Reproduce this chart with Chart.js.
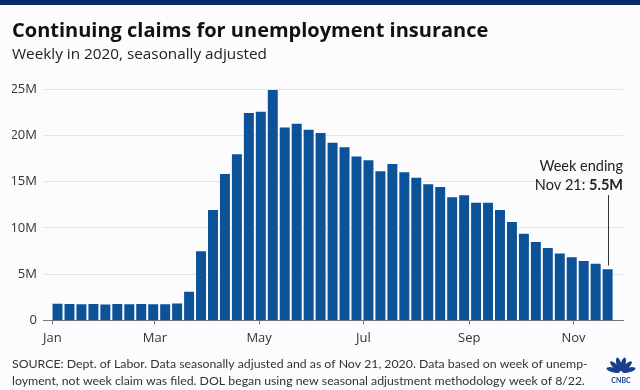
<!DOCTYPE html>
<html>
<head>
<meta charset="utf-8">
<script src="https://cdn.jsdelivr.net/npm/chart.js@4"></script>
<style>
  html, body { margin: 0; padding: 0; background: #fcfbfd; }
  #wrap { width: 640px; height: 390px; position: relative; }
</style>
</head>
<body>
<div id="wrap"><canvas id="claimsChart" width="640" height="390"></canvas></div>
<script>
// week ending dates, 2020
const weekEnding = [
  '2020-01-04', '2020-01-11', '2020-01-18', '2020-01-25', '2020-02-01', '2020-02-08',
  '2020-02-15', '2020-02-22', '2020-02-29', '2020-03-07', '2020-03-14', '2020-03-21',
  '2020-03-28', '2020-04-04', '2020-04-11', '2020-04-18', '2020-04-25', '2020-05-02',
  '2020-05-09', '2020-05-16', '2020-05-23', '2020-05-30', '2020-06-06', '2020-06-13',
  '2020-06-20', '2020-06-27', '2020-07-04', '2020-07-11', '2020-07-18', '2020-07-25',
  '2020-08-01', '2020-08-08', '2020-08-15', '2020-08-22', '2020-08-29', '2020-09-05',
  '2020-09-12', '2020-09-19', '2020-09-26', '2020-10-03', '2020-10-10', '2020-10-17',
  '2020-10-24', '2020-10-31', '2020-11-07', '2020-11-14', '2020-11-21'
];
// continuing claims, millions
const claims = [
  1.76, 1.74, 1.70, 1.75, 1.69, 1.73, 1.72, 1.73, 1.70, 1.70, 1.78, 3.06,
  7.45, 11.9, 15.8, 17.95, 22.4, 22.55, 24.9, 20.85, 21.25, 20.6, 20.25, 19.2,
  18.7, 17.7, 17.3, 16.1, 16.9, 16.0, 15.4, 14.7, 14.4, 13.3, 13.5, 12.7,
  12.7, 11.9, 10.6, 9.35, 8.45, 7.8, 7.2, 6.8, 6.4, 6.1, 5.5
];
const monthTicks = ['2020-01-01', '2020-03-01', '2020-05-01', '2020-07-01', '2020-09-01', '2020-11-01'];
const monthLabels = ['Jan', 'Mar', 'May', 'Jul', 'Sep', 'Nov'];
const yTicks = [0, 5, 10, 15, 20, 25];
const yLabels = ['0', '5M', '10M', '15M', '20M', '25M'];

const DAY = 86400000;
const start = Date.UTC(2020, 0, 1);
const dayNum = s => (Date.parse(s + 'T00:00:00Z') - start) / DAY;

const points = weekEnding.map((d, i) => ({ x: dayNum(d), y: claims[i] }));
const tickDays = monthTicks.map(dayNum);

const navy = '#0b2a6a';
const barBlue = '#0b5299';
const font = '"Open Sans", Lato, sans-serif';
const noteFont = 'Lato, "Open Sans", sans-serif';

const extras = {
  id: 'extras',
  beforeDraw(chart) {
    const ctx = chart.ctx;
    ctx.save();
    ctx.fillStyle = '#fcfbfd';
    ctx.fillRect(0, 0, chart.width, chart.height);
    ctx.fillStyle = navy;
    ctx.fillRect(0, 0, chart.width, 5);
    ctx.restore();
  },
  afterDraw(chart) {
    const ctx = chart.ctx;
    const xs = chart.scales.x, ys = chart.scales.y;
    const last = points[points.length - 1];
    const lx = Math.round(xs.getPixelForValue(last.x)) + 0.5;
    const right = chart.chartArea.right;
    ctx.save();
    // annotation
    ctx.fillStyle = '#222';
    ctx.textAlign = 'right';
    ctx.textBaseline = 'alphabetic';
    ctx.font = '14.5px ' + noteFont;
    ctx.fillText('Week ending', right, 171);
    ctx.font = 'bold 14.5px ' + noteFont;
    const bold = '5.5M';
    const bw = ctx.measureText(bold).width;
    ctx.fillText(bold, right, 190);
    ctx.font = '14.5px ' + noteFont;
    ctx.fillText('Nov 21: ', right - bw, 190);
    ctx.strokeStyle = '#333';
    ctx.lineWidth = 1;
    ctx.beginPath();
    ctx.moveTo(lx, 195);
    ctx.lineTo(lx, ys.getPixelForValue(last.y) - 4);
    ctx.stroke();
    // source note
    ctx.textAlign = 'left';
    ctx.fillStyle = '#333';
    ctx.font = '12.3px ' + noteFont;
    ctx.fillText('SOURCE: Dept. of Labor. Data seasonally adjusted and as of Nov 21, 2020. Data based on week of unemp-', 12, 368);
    ctx.fillText('loyment, not week claim was filed. DOL began using new seasonal adjustment methodology week of 8/22.', 12, 385);
    // logo
    const cx = 621, cy = 372;
    ctx.fillStyle = '#1b3f8c';
    for (let i = 0; i < 6; i++) {
      const a = Math.PI * (-0.92 + i * 0.168);
      ctx.save();
      ctx.translate(cx, cy);
      ctx.rotate(a + Math.PI / 2);
      ctx.beginPath();
      ctx.ellipse(0, -8, 2.4, 7, 0, 0, Math.PI * 2);
      ctx.fill();
      ctx.restore();
    }
    ctx.textAlign = 'center';
    ctx.font = 'bold 7px ' + noteFont;
    ctx.fillText('CNBC', cx, 383);
    ctx.restore();
  }
};

new Chart(document.getElementById('claimsChart'), {
  type: 'bar',
  data: {
    datasets: [{
      data: points,
      backgroundColor: barBlue,
      barThickness: 9.3
    }]
  },
  options: {
    responsive: false,
    animation: false,
    layout: { padding: { left: 12, right: 17, top: 0, bottom: 38 } },
    plugins: {
      legend: { display: false },
      tooltip: { enabled: false },
      title: {
        display: true,
        text: 'Continuing claims for unemployment insurance',
        align: 'start',
        color: '#111',
        font: { family: font, size: 20, weight: 'bold' },
        padding: { top: 19, bottom: 2 }
      },
      subtitle: {
        display: true,
        text: 'Weekly in 2020, seasonally adjusted',
        align: 'start',
        color: '#222',
        font: { family: font, size: 15.3 },
        padding: { top: 0, bottom: 26 }
      }
    },
    scales: {
      x: {
        type: 'linear',
        offset: false,
        min: -5.5,
        max: 334,
        grid: { drawOnChartArea: false, offset: false, tickLength: 4, color: '#777' },
        border: { display: true, color: '#777' },
        afterBuildTicks: s => { s.ticks = tickDays.map(v => ({ value: v })); },
        ticks: {
          color: '#333',
          padding: 6,
          font: { family: font, size: 13 },
          callback: v => monthLabels[tickDays.indexOf(v)]
        }
      },
      y: {
        min: 0,
        max: 25,
        afterFit: s => { s.width = 31; },
        grid: {
          drawTicks: false,
          color: c => c.tick.value === 0 ? 'rgba(0,0,0,0)' : '#e6e6ea'
        },
        border: { display: false },
        afterBuildTicks: s => { s.ticks = yTicks.map(v => ({ value: v })); },
        ticks: {
          color: '#333',
          padding: 6,
          font: { family: font, size: 13 },
          callback: v => yLabels[yTicks.indexOf(v)]
        }
      }
    }
  },
  plugins: [extras]
});
</script>
</body>
</html>
